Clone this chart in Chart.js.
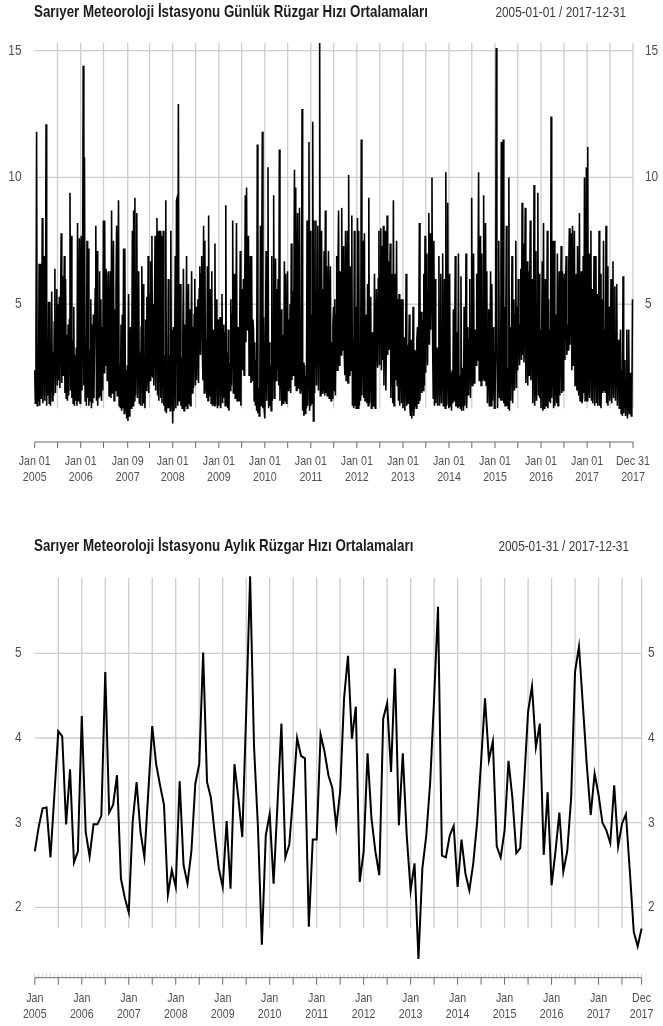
<!DOCTYPE html>
<html lang="tr">
<head>
<meta charset="utf-8">
<title>Sarıyer Meteoroloji İstasyonu Rüzgar Hızı Ortalamaları</title>
<script src="https://cdn.jsdelivr.net/npm/chart.js@4.4.1/dist/chart.umd.min.js"></script>
<style>
  html, body { margin: 0; padding: 0; background: #ffffff; }
  body { width: 663px; height: 1026px; position: relative; overflow: hidden; }
  canvas { position: absolute; left: 0; display: block; }
  #daily { top: 0; }
  #monthly { top: 500px; }
</style>
</head>
<body>
<canvas id="daily" width="663" height="500"></canvas>
<canvas id="monthly" width="663" height="526"></canvas>
<script>
// Günlük ortalama rüzgar hızı (m/s), her yıl için 1 Ocak'tan başlayarak 5 günde bir değer
const DAILY_STEP = 5;
const daily2005 = [
  2.4, 1.1, 3.4, 11.8, 1.0, 3.0,  1.2, 6.6, 1.0, 6.6, 1.3, 3.6,
  8.4, 1.1, 3.3, 6.9, 1.2, 2.8,   12.1, 1.0, 3.2, 1.4, 5.1, 1.1,
  5.1, 1.0, 2.9, 5.5, 1.2, 3.1,   1.4, 4.3, 6.4, 1.5, 4.0, 5.6,
  1.8, 5.0, 2.0, 5.3, 1.7, 4.8,   7.8, 1.9, 6.1, 2.2, 4.6, 6.9,
  1.5, 6.0, 1.3, 3.8, 1.2, 4.2,   1.4, 4.4, 9.4, 1.6, 7.7, 1.3,
  3.6, 1.1, 4.9, 1.0, 3.0, 1.2,   3.3, 1.0, 8.2, 1.2, 2.9, 7.6, 1.1
];
const daily2006 = [
  6.3, 7.7, 1.6, 5.2, 14.4, 1.8, 10.8, 1.2, 3.4, 1.0, 7.5, 1.3,
  7.2, 1.0, 3.2, 1.2, 5.2, 0.9,  4.2, 1.1, 4.6, 1.3, 3.6, 5.6,
  8.1, 1.2, 7.1, 1.0, 3.4, 1.3,  6.3, 1.4, 5.2, 1.2, 4.1, 1.6,
  8.3, 2.3, 8.3, 2.6, 6.4, 6.2,  2.0, 4.3, 6.3, 1.4, 4.0, 6.3,
  1.3, 8.7, 1.5, 4.4, 7.5, 1.2,  4.8, 1.6, 5.6, 8.1, 1.4, 4.9,
  9.1, 1.0, 2.6, 0.9, 4.2, 0.8,  4.6, 0.9, 7.2, 0.7, 7.2, 0.8, 2.4
];
const daily2007 = [
  0.5, 2.6, 0.4, 5.4, 0.6, 2.2,  4.1, 0.9, 2.8, 7.9, 1.0, 8.7,
  1.2, 9.2, 1.4, 3.8, 8.6, 1.3,  3.6, 6.3, 1.1, 3.1, 1.0, 4.1,
  6.5, 1.0, 5.8, 1.1, 2.6, 0.9,  4.4, 1.6, 5.3, 1.8, 6.9, 1.5,
  5.4, 2.0, 6.7, 2.2, 7.7, 2.1,  5.0, 1.8, 4.6, 7.7, 1.6, 4.4,
  8.4, 1.4, 7.9, 1.2, 3.8, 7.9,  1.3, 7.7, 1.1, 3.4, 7.9, 1.0,
  3.0, 0.8, 9.1, 0.7, 2.2, 0.9,  6.0, 0.9, 3.0, 0.8, 7.9, 1.0, 4.0
];
const daily2008 = [
  0.3, 4.1, 0.8, 2.6, 6.9, 0.9,  9.1, 9.2, 1.0, 12.9, 1.2, 2.4,
  5.8, 1.0, 2.9, 0.9, 3.7, 6.4,  0.8, 4.2, 1.0, 2.6, 6.9, 0.9,
  3.6, 5.8, 1.1, 4.8, 1.0, 2.7,  6.3, 1.5, 4.1, 1.7, 4.6, 6.0,
  1.8, 4.9, 2.0, 4.1, 5.2, 1.9,  5.6, 6.5, 3.0, 6.2, 6.9, 3.2,
  2.0, 8.1, 1.5, 7.5, 1.6, 3.6,  1.3, 6.5, 1.2, 8.5, 1.4, 4.0,
  5.6, 1.1, 6.3, 1.0, 4.0, 1.2,  1.0, 7.4, 1.0, 3.5, 5.2, 0.9, 4.4
];
const daily2009 = [
  1.0, 3.6, 4.5, 0.9, 2.8, 5.4,  1.1, 4.2, 1.3, 3.9, 1.0, 8.9,
  1.0, 3.1, 0.9, 4.0, 0.8, 2.7,  1.6, 5.2, 1.8, 4.6, 8.3, 1.5,
  4.4, 6.2, 1.3, 4.0, 8.2, 1.2,  3.3, 4.1, 1.2, 3.6, 7.1, 1.0,
  5.0, 5.6, 2.4, 6.0, 2.2, 5.4,  9.3, 3.5, 9.6, 4.0, 6.8, 7.7,
  2.2, 5.6, 6.9, 1.9, 6.9, 2.0,  4.4, 4.0, 1.2, 3.5, 1.0, 2.8,
  0.8, 11.3, 0.7, 1.7, 0.6, 1.4, 8.1, 1.0, 6.2, 11.8, 0.9, 4.5, 0.8
];
const daily2010 = [
  0.5, 4.0, 7.1, 1.2, 3.4, 10.4, 0.9, 3.5, 1.0, 2.6, 0.8, 6.9,
  1.2, 4.0, 9.3, 1.3, 3.5, 6.8,  2.0, 5.6, 2.4, 6.0, 1.8, 11.1,
  1.2, 3.5, 4.8, 1.0, 3.8, 1.1,  1.3, 6.7, 1.2, 6.2, 1.1, 2.6,
  6.3, 1.6, 4.4, 1.7, 5.0, 1.5,  7.4, 2.0, 5.5, 2.2, 4.8, 10.3,
  1.8, 9.6, 1.6, 4.2, 8.6, 1.7,  2.0, 8.8, 1.5, 4.5, 1.6, 12.7,
  0.8, 2.7, 0.6, 2.6, 0.7, 2.2,  0.9, 8.3, 1.0, 3.0, 11.4, 0.8, 7.9
];
const daily2011 = [
  1.0, 4.6, 1.1, 12.2, 0.4, 8.3, 1.5, 5.4, 8.3, 1.8, 5.0, 8.1,
  1.6, 4.8, 15.3, 1.4, 4.4, 7.9, 1.5, 5.6, 1.6, 7.1, 1.4, 8.7,
  1.5, 6.5, 1.4, 4.6, 7.1, 1.3,  3.8, 6.5, 1.2, 3.5, 1.3, 4.2,
  4.9, 1.6, 5.2, 1.4, 4.6, 6.9,  2.4, 6.2, 8.7, 2.6, 5.8, 6.3,
  3.0, 8.8, 3.2, 6.4, 7.3, 3.0,  2.2, 7.9, 2.0, 5.2, 7.9, 1.9,
  10.1, 2.2, 5.0, 6.5, 2.4, 8.5, 1.0, 3.6, 0.9, 7.9, 1.0, 4.9, 0.9
];
const daily2012 = [
  1.0, 8.4, 0.9, 7.9, 1.0, 3.2,  1.2, 11.5, 1.4, 4.2, 7.5, 1.3,
  7.8, 1.2, 3.4, 4.6, 1.1, 5.8,  1.0, 9.2, 1.1, 2.8, 5.3, 0.9,
  2.6, 3.9, 1.0, 3.1, 6.2, 0.9,  2.3, 5.6, 3.6, 2.5, 6.0, 7.9,
  2.6, 6.0, 8.0, 2.4, 7.3, 2.8,  8.1, 1.8, 4.5, 7.9, 1.6, 3.9,
  8.5, 3.0, 6.7, 3.2, 5.8, 7.4,  1.3, 3.8, 6.2, 1.1, 9.1, 1.0,
  3.4, 6.2, 2.0, 7.5, 1.8, 5.2,  1.2, 5.4, 1.0, 3.6, 5.2, 1.1, 5.2
];
const daily2013 = [
  0.9, 3.0, 3.7, 0.8, 2.6, 6.2,  1.0, 3.4, 1.1, 2.8, 4.6, 0.9,
  0.6, 3.6, 0.5, 1.6, 4.9, 0.6,  1.0, 3.2, 2.8, 0.9, 3.6, 4.1,
  1.1, 3.4, 8.2, 1.2, 3.0, 4.7,  1.5, 4.4, 1.6, 6.2, 1.8, 7.7,
  2.3, 5.8, 7.0, 2.6, 5.4, 8.6,  3.4, 7.8, 4.0, 6.9, 10.0, 3.6,
  1.3, 7.5, 1.0, 6.0, 1.1, 2.2,  3.3, 1.0, 3.0, 6.9, 1.0, 2.4,
  6.2, 1.1, 3.3, 7.0, 1.0, 2.5,  6.0, 0.9, 10.2, 1.0, 2.8, 9.0, 1.1
];
const daily2014 = [
  0.9, 6.2, 1.0, 2.3, 0.8, 2.4,  1.1, 4.8, 1.2, 3.4, 6.9, 1.0,
  1.0, 3.9, 0.9, 7.0, 1.0, 2.2,  0.9, 6.1, 0.8, 1.9, 2.5, 0.8,
  4.9, 1.0, 2.6, 7.0, 0.9, 2.1,  4.1, 1.4, 3.6, 6.0, 1.3, 3.2,
  9.2, 1.8, 4.2, 7.0, 1.9, 3.8,  4.0, 2.6, 6.2, 2.8, 5.6, 10.2,
  2.0, 4.8, 7.7, 1.8, 7.0, 2.0,  2.2, 9.3, 2.0, 4.6, 8.2, 1.8,
  6.3, 1.1, 3.0, 4.8, 1.0, 2.6,  6.3, 1.0, 5.8, 1.2, 2.4, 4.1, 0.9
];
const daily2015 = [
  1.0, 3.2, 15.1, 4.6, 0.9, 2.8, 7.5, 1.3, 4.0, 1.2, 11.4, 1.4,
  1.2, 11.5, 1.1, 4.9, 1.0, 3.4, 8.1, 1.0, 2.5, 0.9, 10.0, 0.8,
  4.1, 1.2, 3.6, 6.9, 1.1, 2.8,  5.2, 1.6, 4.6, 7.5, 1.7, 4.9,
  2.4, 6.0, 4.1, 2.6, 4.2, 6.4,  2.8, 9.0, 3.0, 7.4, 2.7, 5.8,
  8.8, 1.9, 4.6, 6.7, 1.8, 6.3,  2.2, 5.5, 8.3, 2.0, 5.0, 6.0,
  1.1, 3.4, 9.7, 1.0, 2.3, 7.1,  1.2, 4.6, 9.4, 1.4, 6.2, 1.3, 4.0
];
const daily2016 = [
  0.9, 3.4, 6.7, 0.8, 8.2, 0.9,  2.8, 6.0, 1.0, 3.2, 7.9, 0.9,
  5.2, 1.2, 4.0, 1.1, 12.4, 1.3, 3.0, 7.5, 0.9, 7.5, 1.0, 2.4,
  4.6, 1.1, 7.0, 1.0, 3.0, 6.3,  1.4, 4.2, 7.3, 1.5, 6.3, 1.6,
  5.4, 6.2, 2.8, 5.8, 6.9, 3.0,  4.2, 3.2, 6.4, 8.0, 3.4, 6.0,
  7.8, 2.4, 8.1, 2.6, 5.0, 7.9,  1.8, 4.6, 6.2, 1.6, 7.3, 1.9,
  1.4, 8.6, 1.2, 3.8, 6.3, 1.1,  1.3, 6.9, 1.5, 10.0, 1.2, 4.2, 10.4
];
const daily2017 = [
  1.2, 11.2, 1.4, 7.0, 1.3, 3.6, 7.9, 1.2, 5.6, 1.1, 3.4, 6.9,
  1.0, 3.6, 6.9, 1.1, 5.4, 1.0,  2.8, 7.9, 1.0, 6.2, 0.9, 2.6,
  5.2, 1.5, 7.5, 1.6, 4.0, 1.5,  8.1, 1.1, 6.5, 1.0, 2.4, 4.9,
  1.2, 3.8, 6.0, 1.1, 3.0, 6.7,  1.3, 3.6, 5.7, 1.2, 3.4, 5.8,
  1.0, 3.2, 3.6, 0.9, 2.8, 4.0,  0.7, 2.4, 0.6, 6.1, 0.7, 1.6,
  2.8, 0.6, 1.8, 4.0, 0.5, 1.4,  4.0, 0.7, 1.6, 2.3, 0.6, 1.0, 5.2
];
const dailyYears = [2005, 2006, 2007, 2008, 2009, 2010, 2011, 2012, 2013, 2014, 2015, 2016, 2017];
const dailySeries = [daily2005, daily2006, daily2007, daily2008, daily2009, daily2010, daily2011,
                     daily2012, daily2013, daily2014, daily2015, daily2016, daily2017];

// Aylık ortalama rüzgar hızı (m/s), Ocak 2005 – Aralık 2017
const monthlyMean = [
  2.66, 2.95, 3.17, 3.18, 2.59, 3.33, 4.08, 4.02, 2.98, 3.63, 2.53, 2.66,
  4.26, 2.89, 2.60, 2.98, 2.98, 3.08, 4.78, 3.12, 3.21, 3.56, 2.34, 2.11,
  1.94, 3.01, 3.48, 2.89, 2.59, 3.37, 4.14, 3.69, 3.44, 3.21, 2.15, 2.44,
  2.24, 3.49, 2.50, 2.28, 2.66, 3.46, 3.69, 5.01, 3.48, 3.29, 2.85, 2.46,
  2.24, 3.02, 2.22, 3.69, 3.29, 2.83, 4.30, 5.91, 3.90, 2.95, 1.56, 2.85,
  3.10, 2.28, 3.23, 4.17, 2.59, 2.74, 3.33, 4.00, 3.79, 3.76, 1.77, 2.80,
  2.80, 4.04, 3.84, 3.56, 3.41, 2.95, 3.37, 4.47, 4.97, 3.99, 4.37, 2.30,
  2.66, 3.82, 3.05, 2.66, 2.38, 4.23, 4.41, 3.60, 4.82, 2.97, 3.82, 2.85,
  2.20, 2.52, 1.39, 2.46, 2.85, 3.48, 4.47, 5.55, 2.61, 2.59, 2.85, 2.96,
  2.24, 2.80, 2.40, 2.20, 2.52, 3.01, 3.72, 4.47, 3.74, 3.96, 2.72, 2.59,
  2.91, 3.73, 3.29, 2.64, 2.70, 3.48, 4.31, 4.61, 3.89, 4.17, 2.62, 3.36,
  2.26, 2.66, 3.12, 2.42, 2.66, 3.29, 4.78, 5.08, 4.39, 3.68, 3.09, 3.58,
  3.33, 3.00, 2.91, 2.76, 3.44, 2.72, 2.99, 3.10, 2.42, 1.71, 1.54, 1.75
];

// Başlıklar ve eksen etiketleri
const dailyTitle = 'Sarıyer Meteoroloji İstasyonu Günlük Rüzgar Hızı Ortalamaları';
const dailyRange = '2005-01-01 / 2017-12-31';
const monthlyTitle = 'Sarıyer Meteoroloji İstasyonu Aylık Rüzgar Hızı Ortalamaları';
const monthlyRange = '2005-01-31 / 2017-12-31';

const dailyYTicks = [5, 10, 15];
const monthlyYTicks = [2, 3, 4, 5];

const dailyLabelDates = ['2005-01-01', '2006-01-01', '2007-01-09', '2008-01-01', '2009-01-01',
  '2010-01-01', '2011-01-01', '2012-01-01', '2013-01-01', '2014-01-01', '2015-01-01',
  '2016-01-01', '2017-01-01', '2017-12-31'];
const dailyLabels = [['Jan 01', '2005'], ['Jan 01', '2006'], ['Jan 09', '2007'], ['Jan 01', '2008'],
  ['Jan 01', '2009'], ['Jan 01', '2010'], ['Jan 01', '2011'], ['Jan 01', '2012'], ['Jan 01', '2013'],
  ['Jan 01', '2014'], ['Jan 01', '2015'], ['Jan 01', '2016'], ['Jan 01', '2017'], ['Dec 31', '2017']];
const dailyMidTickDates = ['2005-07-01', '2006-07-01', '2007-07-01', '2008-07-01', '2009-07-01',
  '2010-07-01', '2011-07-01', '2012-07-01', '2013-07-01', '2014-07-01', '2015-07-01',
  '2016-07-01', '2017-07-01'];

const monthlyLabelMonths = ['2005-01', '2006-01', '2007-01', '2008-01', '2009-01', '2010-01', '2011-01',
  '2012-01', '2013-01', '2014-01', '2015-01', '2016-01', '2017-01', '2017-12'];
const monthlyLabels = [['Jan', '2005'], ['Jan', '2006'], ['Jan', '2007'], ['Jan', '2008'], ['Jan', '2009'],
  ['Jan', '2010'], ['Jan', '2011'], ['Jan', '2012'], ['Jan', '2013'], ['Jan', '2014'], ['Jan', '2015'],
  ['Jan', '2016'], ['Jan', '2017'], ['Dec', '2017']];
const monthlyMidTickMonths = ['2005-07', '2006-07', '2007-07', '2008-07', '2009-07', '2010-07', '2011-07',
  '2012-07', '2013-07', '2014-07', '2015-07', '2016-07', '2017-07'];

// ---- yardımcılar ----
const EPOCH = Date.UTC(2005, 0, 1);
const dayOf = iso => Math.round((Date.parse(iso + 'T00:00:00Z') - EPOCH) / 864e5);
const monthOf = ym => { const [y, m] = ym.split('-').map(Number); return (y - 2005) * 12 + (m - 1); };

const dailyPoints = [];
dailyYears.forEach((yr, j) => {
  const start = dayOf(yr + '-01-01');
  dailySeries[j].forEach((v, k) => dailyPoints.push({ x: start + k * DAILY_STEP, y: v }));
});
const monthlyPoints = monthlyMean.map((v, i) => ({ x: i, y: v }));

const FONT = '"Liberation Sans", Arial, Helvetica, sans-serif';
const SQUEEZE = 0.82;            // yazıların yatay daraltması
const GRID_COLOR = '#cdcdcd';
const AXIS_COLOR = '#6a6a6a';
const LABEL_COLOR = '#505050';

function drawText(ctx, s, x, y, font, color, align, baseline) {
  ctx.save();
  ctx.font = font;
  ctx.fillStyle = color;
  ctx.textAlign = align;
  ctx.textBaseline = baseline;
  ctx.translate(x, y);
  ctx.scale(SQUEEZE, 1);
  ctx.fillText(s, 0, 0);
  ctx.restore();
}

// Izgara, eksen, etiket ve başlıkları çizen eklenti
function panelDecor(p) {
  return {
    id: 'panelDecor',
    beforeDatasetsDraw(chart) {
      const { ctx, chartArea: a } = chart;
      const xs = chart.scales.x, ys = chart.scales.y;
      ctx.save();
      ctx.strokeStyle = GRID_COLOR;
      ctx.lineWidth = 1.3;
      ctx.beginPath();
      p.yTicks.forEach(v => {
        const py = ys.getPixelForValue(v);
        ctx.moveTo(a.left, py); ctx.lineTo(a.right, py);
      });
      const floor = ys.getPixelForValue(p.gridFloor);
      p.gridX.forEach(v => {
        const px = xs.getPixelForValue(v);
        ctx.moveTo(px, a.top); ctx.lineTo(px, floor);
      });
      ctx.stroke();
      ctx.restore();
    },
    afterDraw(chart) {
      const { ctx, chartArea: a } = chart;
      const xs = chart.scales.x, ys = chart.scales.y;
      const base = a.bottom;
      ctx.save();
      if (p.minor) {
        ctx.strokeStyle = '#d0d0d0';
        ctx.lineWidth = 1;
        ctx.beginPath();
        p.minor.forEach(v => {
          const px = xs.getPixelForValue(v);
          ctx.moveTo(px, base); ctx.lineTo(px, base - p.minorLen);
        });
        ctx.stroke();
      }
      ctx.strokeStyle = AXIS_COLOR;
      ctx.lineWidth = 1;
      ctx.beginPath();
      const lo = Math.min(...p.major), hi = Math.max(...p.major);
      ctx.moveTo(xs.getPixelForValue(lo), base); ctx.lineTo(xs.getPixelForValue(hi), base);
      p.major.forEach(v => {
        const px = xs.getPixelForValue(v);
        ctx.moveTo(px, base); ctx.lineTo(px, base + p.tickLen);
      });
      ctx.stroke();
      ctx.restore();

      const tickFont = p.tickFontSize + 'px ' + FONT;
      const yFont = p.yFontSize + 'px ' + FONT;
      p.labelAt.forEach((v, i) => {
        const px = xs.getPixelForValue(v);
        drawText(ctx, p.labels[i][0], px, base + p.lab1, tickFont, LABEL_COLOR, 'center', 'middle');
        drawText(ctx, p.labels[i][1], px, base + p.lab2, tickFont, LABEL_COLOR, 'center', 'middle');
      });
      p.yTicks.forEach(v => {
        const py = ys.getPixelForValue(v);
        drawText(ctx, String(v), p.yLeftX, py, yFont, LABEL_COLOR, 'right', 'middle');
        drawText(ctx, String(v), a.right + p.yRightGap, py, yFont, LABEL_COLOR, 'left', 'middle');
      });
      drawText(ctx, p.title, p.titleX, p.titleY, 'bold ' + p.titleSize + 'px ' + FONT, '#1c1c1c', 'left', 'alphabetic');
      drawText(ctx, p.range, p.rangeX, p.titleY, p.rangeSize + 'px ' + FONT, '#3a3a3a', 'right', 'alphabetic');
    }
  };
}

function baseOptions(pad, xMin, xMax, yMin, yMax) {
  return {
    responsive: false,
    animation: false,
    events: [],
    layout: { padding: pad },
    scales: {
      x: { type: 'linear', display: false, min: xMin, max: xMax },
      y: { type: 'linear', display: false, min: yMin, max: yMax }
    },
    plugins: { legend: { display: false }, tooltip: { enabled: false }, title: { display: false } }
  };
}

// ---- Günlük panel ----
const dailyMajor = dailyLabelDates.map(dayOf).concat(dailyMidTickDates.map(dayOf)).sort((a, b) => a - b);
new Chart(document.getElementById('daily'), {
  type: 'line',
  data: {
    datasets: [{
      data: dailyPoints,
      borderColor: '#000000',
      borderWidth: 1.6,
      pointRadius: 0,
      tension: 0,
      fill: false,
      clip: 4
    }]
  },
  options: baseOptions({ left: 34.7, right: 30, top: 43, bottom: 58 }, 0, dayOf('2017-12-31'), -0.43, 15.30),
  plugins: [panelDecor({
    yTicks: dailyYTicks,
    gridX: dailyMajor.slice(1),
    gridFloor: 0.9,
    major: dailyMajor,
    tickLen: 6,
    labelAt: dailyLabelDates.map(dayOf),
    labels: dailyLabels,
    lab1: 19.5, lab2: 35,
    tickFontSize: 13, yFontSize: 14.5,
    yLeftX: 21.5, yRightGap: 12,
    title: dailyTitle, range: dailyRange,
    titleX: 34, titleY: 17, rangeX: 626,
    titleSize: 16.3, rangeSize: 14.4
  })]
});

// ---- Aylık panel ----
const monthlyMajor = monthlyLabelMonths.map(monthOf).concat(monthlyMidTickMonths.map(monthOf)).sort((a, b) => a - b);
new Chart(document.getElementById('monthly'), {
  type: 'line',
  data: {
    datasets: [{
      data: monthlyPoints,
      borderColor: '#000000',
      borderWidth: 2,
      pointRadius: 0,
      tension: 0,
      fill: false,
      clip: 4
    }]
  },
  options: baseOptions({ left: 34.8, right: 21.4, top: 77.7, bottom: 48.3 }, 0, monthlyMean.length - 1, 1.169, 5.893),
  plugins: [panelDecor({
    yTicks: monthlyYTicks,
    gridX: monthlyMajor.slice(1),
    gridFloor: 1.755,
    major: monthlyMajor,
    minor: monthlyMean.map((v, i) => i),
    minorLen: 4,
    tickLen: 7,
    labelAt: monthlyLabelMonths.map(monthOf),
    labels: monthlyLabels,
    lab1: 21, lab2: 37,
    tickFontSize: 13, yFontSize: 14.5,
    yLeftX: 21.5, yRightGap: 6.5,
    title: monthlyTitle, range: monthlyRange,
    titleX: 34, titleY: 51, rangeX: 629,
    titleSize: 16.3, rangeSize: 14.4
  })]
});
</script>
</body>
</html>
